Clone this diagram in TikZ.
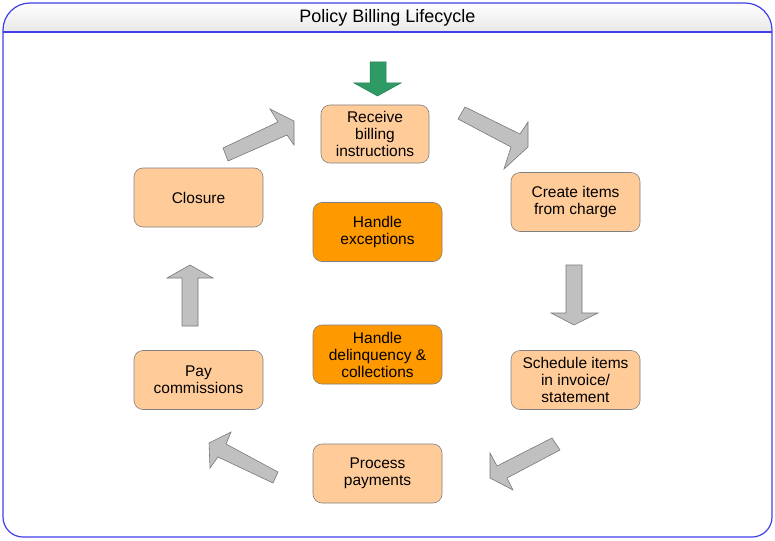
\documentclass[tikz,border=0pt]{standalone}
\usepackage{fontspec}
\setmainfont{Liberation Sans}
\definecolor{frameblue}{RGB}{64,64,232}
\definecolor{lightor}{RGB}{255,204,153}
\definecolor{darkor}{RGB}{255,153,0}
\definecolor{boxline}{RGB}{128,128,128}
\definecolor{arrgray}{RGB}{192,192,192}
\definecolor{arrline}{RGB}{120,120,120}
\definecolor{arrgreen}{RGB}{46,155,100}
\begin{document}
\begin{tikzpicture}[x=1pt,y=-1pt,
  box/.style={draw=boxline, line width=0.6pt, rounded corners=9pt, fill=lightor,
    inner sep=0pt, align=center, font=\fontsize{15.5}{17}\selectfont, text=black,
    minimum width=129pt, minimum height=59pt},
  darkbox/.style={box, fill=darkor},
  blockarr/.style={fill=arrgray, draw=arrline, line width=0.6pt, line join=miter},
  greenarr/.style={fill=arrgreen, draw=arrgreen!80!black, line width=0.5pt},
  frame/.style={draw=frameblue, line width=1.2pt}]
\useasboundingbox (0,0) rectangle (775,540);
\fill[white] (0,0) rectangle (775,540);
% title band
\shade[top color=white, bottom color=black!9]
  (3,32) [rounded corners=27pt] |- (772,3) [sharp corners] -- (772,32) -- cycle;
% frame
\draw[frame] (3,270) [rounded corners=27pt] |- (772,3) -- (772,270)
  [rounded corners=20pt] |- (3,537) -- cycle;
\draw[frame] (3,32) -- (772,32);
\node[font=\fontsize{18}{20}\selectfont] (title) at (387.5,17.5) {Policy Billing Lifecycle};

% boxes
\node[box, minimum width=108pt, minimum height=58pt] (recv) at (375,134) {Receive\\billing\\instructions};
\node[box] (create) at (575.5,202) {Create items\\from charge};
\node[box] (sched) at (575.5,380) {Schedule items\\in invoice/\\statement};
\node[box] (proc) at (377.5,473.5) {Process\\payments};
\node[box] (pay) at (198.5,380) {Pay\\commissions};
\node[box] (clos) at (198.5,197.5) {Closure};
\node[darkbox] (exc) at (377.5,232) {Handle\\exceptions};
\node[darkbox] (delq) at (377.5,354.5) {Handle\\delinquency \&\\collections};

% green entry arrow
\filldraw[greenarr] (370,62) -- (386,62) -- (386,83) -- (401,83) -- (377.5,96) -- (354,83) -- (370,83) -- cycle;

% block arrows
% receive -> create
\filldraw[blockarr] (465,107) -- (520,134) -- (528,122) -- (528,147) -- (504,169) -- (511,147) -- (458,119) -- cycle;
% create -> schedule
\filldraw[blockarr] (566,265) -- (582,265) -- (582,313) -- (598,313) -- (574,325) -- (551,313) -- (566,313) -- cycle;
% schedule -> process
\filldraw[blockarr] (552,438) -- (497,466) -- (490,453) -- (490,478) -- (513,490) -- (507,478) -- (560,450) -- cycle;
% process -> pay
\filldraw[blockarr] (278,472) -- (226,444) -- (231,432) -- (209,443) -- (210,468) -- (218,457) -- (273,483) -- cycle;
% pay -> closure
\filldraw[blockarr] (182,326) -- (182,278) -- (167,278) -- (190,265) -- (213,278) -- (198,278) -- (198,326) -- cycle;
% closure -> receive
\filldraw[blockarr] (223,148) -- (278,122) -- (270,109) -- (294,121) -- (294,145) -- (287,135) -- (228,161) -- cycle;
\end{tikzpicture}
\end{document}
